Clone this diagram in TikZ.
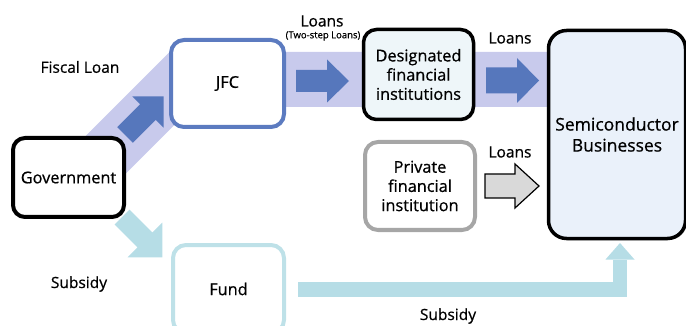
\documentclass[tikz,border=0pt]{standalone}
\usepackage{fontspec}
\setmainfont{Open Sans}[FakeBold=0.7]
\usetikzlibrary{shadows}
\definecolor{bandc}{RGB}{200,202,236}
\definecolor{darkb}{RGB}{86,119,188}
\definecolor{jfcb}{RGB}{92,123,192}
\definecolor{cyanc}{RGB}{182,221,230}
\definecolor{fundb}{RGB}{190,225,232}
\definecolor{desfill}{RGB}{238,246,249}
\definecolor{semfill}{RGB}{234,241,250}
\definecolor{privb}{RGB}{166,166,166}
\definecolor{grayar}{RGB}{217,217,217}
\tikzset{
  pics/fat/.style n args={4}{code={
    \path[pic actions] (0,-#2) -- ({#1-#4},-#2) -- ({#1-#4},-#3) -- (#1,0)
      -- ({#1-#4},#3) -- ({#1-#4},#2) -- (0,#2) -- cycle;}},
  boxbase/.style={rectangle, rounded corners=13pt, align=center, inner sep=0pt,
    font=\fontsize{16.3}{19.2}\selectfont},
  lbl/.style={font=\fontsize{15.5}{18}\selectfont, inner sep=0pt},
  softshadow/.style={drop shadow={shadow xshift=1.5pt, shadow yshift=-1.5pt, opacity=0.25, fill=black}}
}
\begin{document}
\begin{tikzpicture}[x=1pt,y=-1pt]
\useasboundingbox (0,0) rectangle (686,326);
% named anchor points
\coordinate (bandA) at (100,160.5);
\coordinate (bandB) at (181,79.5);
\coordinate (bandC) at (560,79.5);
% purple band
\draw[bandc, line width=55pt, line join=miter] (bandA) -- (bandB) -- (bandC);
% subsidy connector
\coordinate (subA) at (298,289.5);
\coordinate (subB) at (620,289.5);
\coordinate (subC) at (620,259.5);
\coordinate (subT) at (620,243);
\draw[cyanc, line width=14.5pt, line join=miter] (subA) -- (subB) -- (subC);
\fill[cyanc] (605.5,259.5) -- (subT) -- (634.5,259.5) -- cycle;
% boxes
\node[boxbase, draw=black, line width=4pt, fill=white, minimum width=111pt, minimum height=79pt, rounded corners=12pt] (gov) at (68.5,177.5) {Government};
\node[boxbase, draw=jfcb, line width=4pt, fill=white, minimum width=113pt, minimum height=87pt] (jfc) at (227.5,83.5) {JFC};
\node[boxbase, draw=black, line width=3.5pt, fill=desfill, softshadow, minimum width=110pt, minimum height=90pt] (des) at (418.5,74.5) {Designated\\financial\\institutions};
\node[boxbase, draw=privb, line width=4pt, fill=white, minimum width=110pt, minimum height=88pt] (priv) at (420,186) {Private\\financial\\institution};
\node[boxbase, draw=black, line width=3.5pt, fill=semfill, softshadow, minimum width=137pt, minimum height=208pt, rounded corners=18pt, font=\fontsize{17.5}{21}\selectfont] (semi) at (617,134.5) {Semiconductor\\Businesses};
\node[boxbase, draw=fundb, line width=4pt, fill=white, minimum width=111pt, minimum height=88pt] (fund) at (228.5,289) {Fund};
% block arrows
\coordinate (a1) at (125,135);
\coordinate (a2) at (296,81);
\coordinate (a3) at (486,80.5);
\coordinate (a4) at (485,186);
\coordinate (a5) at (122,217);
\pic[fill=darkb, rotate=45] at (a1) {fat={54.5}{11}{22}{22}};
\pic[fill=darkb] at (a2) {fat={53}{11}{21.5}{22}};
\pic[fill=darkb] at (a3) {fat={53}{13}{22.5}{22}};
\pic[fill=grayar, draw=black, line width=1.2pt, softshadow] at (a4) {fat={54}{12}{22}{24}};
\pic[fill=cyanc, rotate=-45] at (a5) {fat={57}{10.5}{24.5}{24.5}};
% labels
\node[lbl] (fl) at (80,67) {Fiscal Loan};
\node[lbl] (l1) at (322,21) {Loans};
\node[lbl, font=\fontsize{9.5}{11}\selectfont] (l1b) at (323,36) {(Two-step Loans)};
\node[lbl] (l2) at (510,38) {Loans};
\node[lbl] (l3) at (510,152) {Loans};
\node[lbl] (s1) at (79,284) {Subsidy};
\node[lbl] (s2) at (448,316) {Subsidy};
\end{tikzpicture}
\end{document}
